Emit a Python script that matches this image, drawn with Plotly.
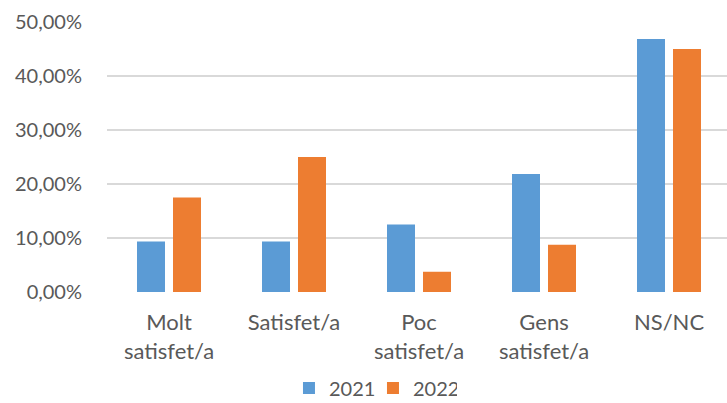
import plotly.graph_objects as go

categories = ["Molt<br>satisfet/a", "Satisfet/a", "Poc<br>satisfet/a", "Gens<br>satisfet/a", "NS/NC"]
values_2021 = [0.09375, 0.09375, 0.125, 0.21875, 0.46875]
values_2022 = [0.175, 0.25, 0.0375, 0.0875, 0.45]
y_ticks = [0, 0.1, 0.2, 0.3, 0.4, 0.5]

FONT = "Lato"
GRAY = "#595959"

fig = go.Figure()
fig.add_trace(go.Bar(x=categories, y=values_2021, name="2021", marker=dict(color="#5B9BD5", line=dict(width=0))))
fig.add_trace(go.Bar(x=categories, y=values_2022, name="2022", marker=dict(color="#ED7D31", line=dict(width=0))))

fig.update_layout(
    width=727, height=403,
    margin=dict(l=107, r=0, t=22, b=111, autoexpand=False),
    paper_bgcolor="white", plot_bgcolor="white",
    separators=",.",
    barmode="group", bargap=0.424, bargroupgap=0.222,
    font=dict(family=FONT, size=20, color=GRAY),
    showlegend=True,
    legend=dict(orientation="h", x=0.429, xanchor="center", y=-0.356, yanchor="middle",
                font=dict(size=20, color=GRAY), itemsizing="constant",
                entrywidth=39, entrywidthmode="pixels"),
    xaxis=dict(range=[-0.496, 4.464], showgrid=False, showline=False, ticks="",
               automargin=False, ticklabelstandoff=15, tickfont=dict(size=22, color=GRAY)),
    yaxis=dict(range=[0, 0.5], tickvals=y_ticks, tickformat=".2%", showgrid=True,
               gridcolor="#D9D9D9", gridwidth=1.5, zeroline=False, showline=False,
               automargin=False, ticks="", ticklabelstandoff=24,
               tickfont=dict(size=20, color=GRAY)),
)

fig.write_html("out.html", config={"displayModeBar": False},
               post_script="document.body.style.margin='0px';")
